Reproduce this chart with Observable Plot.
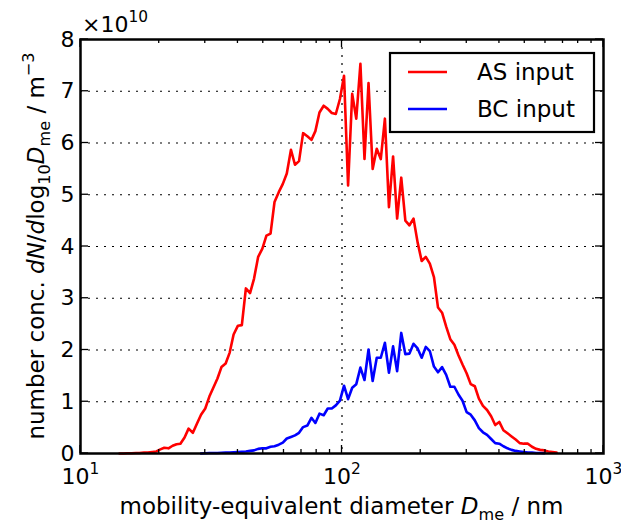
<!DOCTYPE html>
<html><head><meta charset="utf-8">
<script src="https://cdn.jsdelivr.net/npm/d3@7"></script>
<script src="https://cdn.jsdelivr.net/npm/@observablehq/plot@0.6"></script>
<style>
html,body{margin:0;padding:0;background:#fff}
svg{font-family:"DejaVu Sans",sans-serif}
</style>
</head><body>
<div id="chart"></div>
<script>
// mobility-equivalent diameter (nm), SMPS channels
const diameters = [14.1, 14.6, 15.1, 15.7, 16.3, 16.8, 17.5, 18.1, 18.8, 19.5,
  20.2, 20.9, 21.7, 22.5, 23.3, 24.1, 25.0, 25.9, 26.9, 27.9, 28.9,
  30.0, 31.1, 32.2, 33.4, 34.6, 35.9, 37.2, 38.5, 40.0, 41.4, 42.9, 44.5, 46.1, 47.8, 49.6,
  51.4, 53.3, 55.2, 57.3, 59.4, 61.5, 63.8, 66.1, 68.5, 71.0, 73.7, 76.4, 79.1, 82.0, 85.1, 88.2, 91.4, 94.7, 98.2,
  101.8, 105.5, 109.4, 113.4, 117.6, 121.9, 126.3, 131.0, 135.8, 140.7, 145.9, 151.2, 156.8, 162.5, 168.5, 174.7, 181.1, 187.7, 194.6,
  201.7, 209.1, 216.7, 224.7, 232.9, 241.4, 250.3, 259.5, 269.0, 278.8, 289.0, 299.6, 310.6, 322.0, 333.8, 346.0, 358.7, 371.8, 385.4, 399.5,
  414.2, 429.4, 445.1, 461.4, 478.3, 495.8, 514.0, 532.8, 552.3, 572.5, 593.5, 615.3, 637.8, 661.2];

// dN/dlog10 Dme in units of 1e10 m^-3
const asInput = [0, 0, 0.005, 0.005, 0.01, 0.01, 0.02, 0.02, 0.03, 0.04,
  0.08, 0.11, 0.10, 0.15, 0.18, 0.19, 0.31, 0.48, 0.40, 0.58, 0.75,
  0.87, 1.10, 1.27, 1.45, 1.67, 1.74, 1.95, 2.30, 2.47, 2.48, 3.19, 3.10, 3.38, 3.80, 3.96,
  4.21, 4.25, 4.86, 5.05, 5.21, 5.41, 5.87, 5.58, 5.65, 6.19, 6.13, 6.06, 6.23, 6.59, 6.72, 6.66, 6.58, 6.56, 6.85,
  7.30, 5.18, 6.95, 6.47, 7.53, 5.69, 7.16, 5.50, 5.89, 5.69, 6.47, 4.76, 5.74, 4.54, 5.33, 4.50, 4.41, 4.54, 4.08,
  3.72, 3.80, 3.67, 3.41, 2.82, 2.72, 2.45, 2.21, 2.10, 1.90, 1.72, 1.55, 1.34, 1.30, 1.06, 0.92, 0.84, 0.72, 0.55, 0.61,
  0.45, 0.39, 0.33, 0.27, 0.20, 0.19, 0.19, 0.13, 0.09, 0.07, 0.06, 0.04, 0.03, 0.02];

const bcInput = [null, null, null, null, null, null, null, null, null, null,
  null, null, null, null, null, null, null, null, null, null, 0,
  0.005, 0.01, 0.01, 0.01, 0.015, 0.02, 0.02, 0.025, 0.03, 0.035, 0.04, 0.05, 0.06, 0.09, 0.10,
  0.10, 0.13, 0.14, 0.17, 0.21, 0.29, 0.32, 0.35, 0.40, 0.51, 0.54, 0.69, 0.59, 0.77, 0.74, 0.87, 0.87, 0.93, 1.02,
  1.31, 1.05, 1.27, 1.34, 1.66, 1.42, 2.01, 1.40, 1.85, 1.85, 2.14, 1.56, 2.07, 1.59, 2.33, 1.92, 1.93, 2.12, 2.03,
  1.85, 2.06, 1.98, 1.68, 1.57, 1.67, 1.52, 1.29, 1.29, 1.14, 1.02, 0.80, 0.75, 0.64, 0.49, 0.41, 0.36, 0.28, 0.20, 0.19,
  0.14, 0.10, 0.07, 0.05, 0.04, 0.03, 0.02, 0.02, 0.01, 0.01, 0.005, null, null, null];

const seriesNames = ["AS input", "BC input"];
const seriesColors = ["#ff0000", "#0000ff"];
const yTicks = [0, 1, 2, 3, 4, 5, 6, 7, 8];
const yGridTicks = [1, 2, 3, 4, 5, 6, 7];
const xMajorTicks = [10, 100, 1000];
const xTickLabels = ["10^1", "10^2", "10^3"];
const xMinorTicks = [20, 30, 40, 50, 60, 70, 80, 90, 200, 300, 400, 500, 600, 700, 800, 900];
const xGridTicks = [100];

(function () {
const asRows = diameters.map((d, i) => ({d, v: asInput[i]}));
const bcRows = diameters.map((d, i) => ({d, v: bcInput[i]}));

const FS = 22;
const dash = "2,6";

const plot = Plot.plot({
  width: 621, height: 527,
  marginLeft: 80, marginRight: 18, marginTop: 39, marginBottom: 74,
  style: {fontFamily: "DejaVu Sans", fontSize: FS + "px", background: "white", color: "black"},
  x: {type: "log", domain: [10, 1000]},
  y: {domain: [0, 8]},
  marks: [
    Plot.gridY(yGridTicks, {stroke: "black", strokeOpacity: 1, strokeWidth: 1.2, strokeDasharray: dash}),
    Plot.gridX(xGridTicks, {stroke: "black", strokeOpacity: 1, strokeWidth: 1.2, strokeDasharray: dash}),
    Plot.lineY(asRows, {x: "d", y: "v", stroke: seriesColors[0], strokeWidth: 2.6}),
    Plot.lineY(bcRows, {x: "d", y: "v", stroke: seriesColors[1], strokeWidth: 2.6}),
    Plot.axisY(yTicks, {anchor: "left", tickSize: 0, tickPadding: 6, label: null, fontSize: FS,
      tickFormat: d => String(d)}),
    Plot.axisX(xMajorTicks, {anchor: "bottom", tickSize: 0, tickPadding: 15, label: null, fontSize: FS,
      tickFormat: (d) => xTickLabels[xMajorTicks.indexOf(d)]}),
    Plot.frame({stroke: "black", strokeWidth: 2.5})
  ]
});
document.getElementById("chart").appendChild(plot);

const svg = d3.select(plot);
const sx = plot.scale("x"), sy = plot.scale("y");
const X = v => sx.apply(v), Y = v => sy.apply(v);
const yTop = Y(8), yBot = Y(0), xLeft = X(10), xRight = X(1000);

// superscript x tick labels
svg.selectAll('g[aria-label="x-axis tick label"] text').each(function() {
  const t = d3.select(this);
  const s = t.text();
  if (!s.includes("^")) return;
  const [base, exp] = s.split("^");
  t.text(null);
  t.append("tspan").text(base);
  t.append("tspan").attr("dy", -0.45 * FS).attr("font-size", 0.7 * FS).text(exp);
});

// inward ticks
const tk = svg.append("g").attr("stroke", "black").attr("stroke-width", 1.3);
for (const v of xMajorTicks) {
  tk.append("line").attr("x1", X(v)).attr("x2", X(v)).attr("y1", yBot).attr("y2", yBot - 8);
  tk.append("line").attr("x1", X(v)).attr("x2", X(v)).attr("y1", yTop).attr("y2", yTop + 8);
}
for (const v of xMinorTicks) {
  tk.append("line").attr("x1", X(v)).attr("x2", X(v)).attr("y1", yBot).attr("y2", yBot - 4);
  tk.append("line").attr("x1", X(v)).attr("x2", X(v)).attr("y1", yTop).attr("y2", yTop + 4);
}
for (const v of yTicks) {
  tk.append("line").attr("y1", Y(v)).attr("y2", Y(v)).attr("x1", xLeft).attr("x2", xLeft + 8);
  tk.append("line").attr("y1", Y(v)).attr("y2", Y(v)).attr("x1", xRight).attr("x2", xRight - 8);
}

function rich(textSel, parts, fs) {
  let cur = 0;
  for (const p of parts) {
    const want = p.sub ? 0.25 * fs : p.sup ? -0.45 * fs : 0;
    const ts = textSel.append("tspan").text(p.t).attr("dy", want - cur);
    if (p.sub || p.sup) ts.attr("font-size", 0.7 * fs);
    if (p.it) ts.attr("font-style", "italic");
    cur = want;
  }
}

// x label
const xl = svg.append("text").attr("x", (xLeft + xRight) / 2).attr("y", 514)
  .attr("text-anchor", "middle").attr("font-size", 23).attr("fill", "black");
rich(xl, [{t: "mobility-equivalent diameter "}, {t: "D", it: true}, {t: "me", sub: true}, {t: " / nm"}], 23);

// y label
const yl = svg.append("text").attr("transform", `translate(44,${(yTop + yBot) / 2}) rotate(-90)`)
  .attr("text-anchor", "middle").attr("font-size", 23).attr("fill", "black");
rich(yl, [{t: "number conc. "}, {t: "dN", it: true}, {t: "/"}, {t: "d", it: true}, {t: "log"},
  {t: "10", sub: true}, {t: "D", it: true}, {t: "me", sub: true}, {t: " / m"}, {t: "\u22123", sup: true}], 23);

// multiplier
const mult = svg.append("text").attr("x", 82).attr("y", 32).attr("text-anchor", "start")
  .attr("font-size", FS).attr("fill", "black");
rich(mult, [{t: "\u00d710"}, {t: "10", sup: true}], FS);

// legend
const lg = svg.append("g");
lg.append("rect").attr("x", 390).attr("y", 53).attr("width", 204).attr("height", 79)
  .attr("fill", "white").attr("stroke", "black").attr("stroke-width", 2.2);
seriesNames.forEach((name, i) => {
  const yy = 72 + i * 37;
  lg.append("line").attr("x1", 408).attr("x2", 447).attr("y1", yy).attr("y2", yy)
    .attr("stroke", seriesColors[i]).attr("stroke-width", 2.6);
  lg.append("text").attr("x", 477).attr("y", yy + 8).attr("text-anchor", "start")
    .attr("font-size", 23).attr("fill", "black").text(name);
});
})();
</script>
</body></html>
